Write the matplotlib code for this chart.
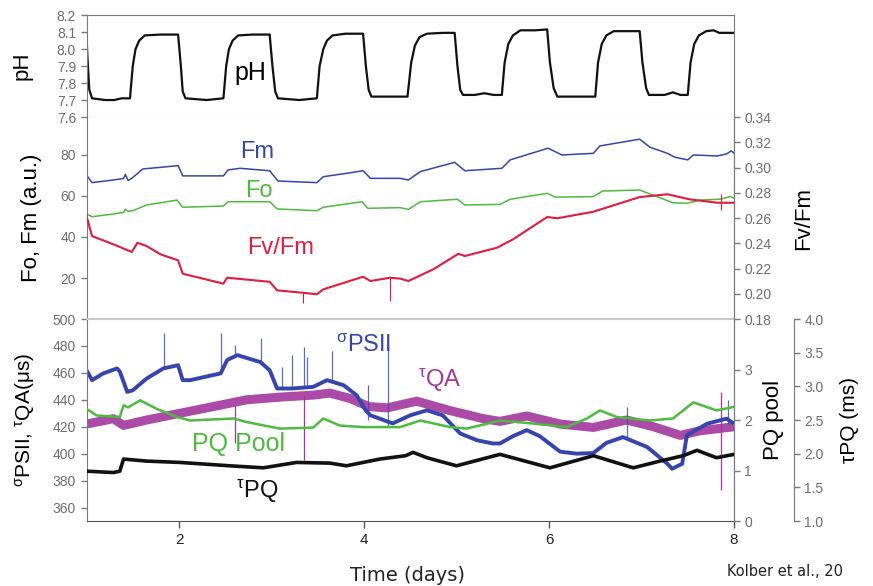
import matplotlib
matplotlib.use("Agg")
import matplotlib.pyplot as plt

plt.rcParams['font.family'] = ['Liberation Sans', 'DejaVu Sans']
plt.rcParams['mathtext.fontset'] = 'custom'
plt.rcParams['mathtext.rm'] = 'Liberation Sans'
plt.rcParams['mathtext.it'] = 'Liberation Sans'

# ---- data (time in days) ----
ph_days = [1.00, 1.01, 1.03, 1.06, 1.20, 1.30, 1.38, 1.47,
           1.50, 1.53, 1.57, 1.63, 1.80, 1.99, 2.02, 2.04, 2.07, 2.30, 2.48,
           2.51, 2.54, 2.58, 2.64, 2.80, 2.98, 3.01, 3.04, 3.07, 3.30, 3.49,
           3.52, 3.56, 3.60, 3.66, 3.80, 3.99, 4.02, 4.05, 4.08, 4.30, 4.47,
           4.51, 4.55, 4.60, 4.68, 4.85, 4.98, 5.01, 5.04, 5.07, 5.20, 5.30, 5.40, 5.49,
           5.52, 5.56, 5.61, 5.69, 5.85, 5.98, 6.01, 6.05, 6.09, 6.30, 6.50,
           6.53, 6.57, 6.62, 6.70, 6.85, 6.98, 7.01, 7.05, 7.08, 7.25, 7.34, 7.42, 7.50,
           7.53, 7.57, 7.62, 7.70, 7.78, 7.84, 8.00]
ph_vals = [8.07, 7.95, 7.76, 7.71, 7.70, 7.70, 7.71, 7.71,
           7.90, 8.00, 8.05, 8.08, 8.085, 8.085, 7.90, 7.75, 7.71, 7.70, 7.71,
           7.90, 8.00, 8.05, 8.08, 8.085, 8.085, 7.90, 7.75, 7.71, 7.70, 7.71,
           7.90, 8.00, 8.05, 8.08, 8.09, 8.09, 7.90, 7.76, 7.72, 7.72, 7.72,
           7.92, 8.02, 8.07, 8.09, 8.095, 8.095, 7.90, 7.76, 7.73, 7.73, 7.74, 7.73, 7.73,
           7.92, 8.03, 8.08, 8.11, 8.11, 8.115, 7.92, 7.77, 7.72, 7.72, 7.72,
           7.92, 8.03, 8.08, 8.105, 8.105, 8.105, 7.92, 7.77, 7.73, 7.73, 7.745, 7.73, 7.73,
           7.92, 8.03, 8.08, 8.105, 8.11, 8.095, 8.095]

fm_days = [1.00, 1.06, 1.29, 1.40, 1.42, 1.45, 1.50, 1.61, 1.76, 1.99, 2.04, 2.48, 2.53,
           2.66, 2.98, 3.07, 3.49, 3.56, 3.82, 3.99, 4.07, 4.39, 4.48, 4.61, 4.98, 5.09,
           5.49, 5.58, 5.99, 6.14, 6.48, 6.55, 6.98, 7.09, 7.28, 7.36, 7.50, 7.56, 7.82,
           7.92, 7.97, 8.00]
fm_vals = [70.2, 66.5, 67.8, 68.5, 70.5, 67.5, 69.0, 73.2, 73.8, 74.8, 69.8, 69.8, 72.7,
           73.5, 72.3, 67.3, 66.5, 69.4, 71.1, 72.3, 68.6, 68.6, 67.8, 71.9, 76.4, 72.3,
           73.5, 77.6, 83.3, 80.0, 80.8, 84.4, 87.7, 83.8, 80.8, 78.9, 77.6, 80.0, 79.5,
           80.5, 82.0, 80.9]

fo_days = [1.00, 1.06, 1.29, 1.40, 1.42, 1.45, 1.50, 1.65, 1.98, 2.04, 2.48, 2.53, 2.98,
           3.06, 3.49, 3.56, 3.98, 4.04, 4.39, 4.48, 4.61, 5.01, 5.09, 5.47, 5.58, 5.98,
           6.07, 6.48, 6.58, 6.98, 7.12, 7.34, 7.49, 7.63, 7.85, 7.96, 8.00]
fo_vals = [51.2, 49.9, 51.2, 52.0, 53.5, 52.5, 52.8, 55.6, 58.0, 54.5, 55.1, 57.2, 57.2,
           53.7, 52.8, 54.5, 57.2, 54.0, 54.3, 53.5, 57.2, 58.4, 55.6, 55.9, 58.4, 61.3,
           59.4, 59.7, 62.4, 62.9, 60.5, 56.7, 56.4, 58.0, 58.4, 59.7, 58.9]

fvfm_days = [1.00, 1.06, 1.29, 1.49, 1.55, 1.65, 1.80, 1.99, 2.04, 2.48, 2.52, 2.98, 3.06,
             3.34, 3.49, 3.56, 3.99, 4.07, 4.28, 4.39, 4.48, 4.75, 5.02, 5.09, 5.44, 5.61,
             5.98, 6.09, 6.48, 6.98, 7.28, 7.52, 7.82, 8.00]
fvfm_vals = [0.2616, 0.2457, 0.2392, 0.2331, 0.2404, 0.2378, 0.2312, 0.2265, 0.2159,
             0.2080, 0.2127, 0.2095, 0.2027, 0.2008, 0.1996, 0.2035, 0.2135, 0.2101,
             0.2127, 0.2120, 0.2101, 0.2194, 0.2317, 0.2299, 0.2365, 0.2431, 0.2608,
             0.2598, 0.2650, 0.2766, 0.2788, 0.2748, 0.2721, 0.2721]
fvfm_spike_days = [3.34, 4.28, 7.86]
fvfm_spike_lo = [0.1929, 0.1943, 0.2666]
fvfm_spike_hi = [0.2008, 0.2127, 0.2790]

sig_days = [1.00, 1.06, 1.18, 1.33, 1.36, 1.44, 1.50, 1.65, 1.83, 1.99, 2.04, 2.12, 2.45,
            2.52, 2.63, 2.88, 2.98, 3.06, 3.22, 3.45, 3.60, 3.78, 3.92, 4.02, 4.07, 4.31,
            4.50, 4.68, 4.85, 5.04, 5.22, 5.39, 5.47, 5.61, 5.76, 5.90, 6.12, 6.30, 6.48,
            6.62, 6.80, 7.06, 7.28, 7.33, 7.44, 7.49, 7.71, 7.92, 8.00]
sig_vals = [462.0, 454.6, 459.6, 463.3, 461.0, 445.9, 447.1, 455.8, 463.3, 465.7, 454.6,
            454.6, 459.6, 469.5, 473.2, 468.0, 462.0, 448.4, 448.4, 449.6, 454.6, 450.8,
            443.4, 432.0, 428.5, 422.5, 428.5, 432.2, 428.5, 415.0, 410.0, 407.6, 407.6,
            413.0, 417.5, 413.0, 401.5, 400.0, 400.5, 408.0, 412.3, 405.0, 392.5, 388.8,
            392.5, 413.6, 422.3, 426.0, 422.3]
sig_spike_days = [1.838, 2.454, 2.605, 2.886, 3.114, 3.222, 3.351, 3.384, 3.654, 4.043,
                  4.259, 6.843, 7.935]
sig_spike_lo = [463.0, 459.0, 472.0, 467.0, 448.0, 448.0, 449.0, 449.0, 455.0, 425.0,
                420.0, 412.0, 422.0]
sig_spike_hi = [489.6, 489.6, 480.6, 485.8, 464.5, 473.0, 479.0, 472.0, 476.0, 451.0,
                480.6, 434.7, 439.7]

tqa_days = [1.00, 1.29, 1.40, 1.65, 2.01, 2.37, 2.73, 3.09, 3.45, 3.63, 3.85, 4.05, 4.25,
            4.57, 4.93, 5.29, 5.47, 5.76, 6.12, 6.48, 6.84, 7.13, 7.42, 7.63, 8.00]
tqa_vals = [422.0, 426.0, 421.0, 425.0, 430.0, 435.0, 440.0, 442.0, 443.5, 445.0, 441.0,
            435.0, 434.0, 439.0, 432.0, 426.0, 424.0, 428.0, 422.0, 419.5, 425.0, 420.0,
            413.6, 417.0, 420.0]
tqa_spike_days = [2.61, 3.351, 7.856]
tqa_spike_lo = [408.0, 395.0, 372.7]
tqa_spike_hi = [437.0, 443.0, 445.8]

pq_days = [1.00, 1.11, 1.36, 1.40, 1.45, 1.58, 1.76, 1.98, 2.12, 2.59, 2.73, 3.09, 3.45,
           3.56, 3.74, 3.99, 4.39, 4.61, 4.93, 5.11, 5.47, 5.83, 6.19, 6.41, 6.55, 6.73,
           7.09, 7.34, 7.56, 7.81, 8.00]
pq_vals = [2.22, 2.09, 2.06, 2.29, 2.25, 2.39, 2.22, 2.06, 1.99, 2.03, 1.96, 1.83, 1.85,
           2.03, 1.89, 1.86, 1.86, 1.99, 1.86, 1.83, 1.99, 1.93, 1.86, 2.03, 2.19, 2.06,
           1.99, 2.03, 2.35, 2.19, 2.26]

tpq_days = [1.00, 1.29, 1.36, 1.40, 1.65, 2.01, 2.55, 2.91, 3.27, 3.63, 3.81, 4.17, 4.45,
            4.53, 4.68, 5.00, 5.47, 6.01, 6.48, 6.91, 7.20, 7.45, 7.60, 7.81, 8.00]
tpq_vals = [1.74, 1.72, 1.74, 1.92, 1.89, 1.87, 1.82, 1.79, 1.87, 1.86, 1.82, 1.92, 1.97,
            2.02, 1.94, 1.82, 1.99, 1.79, 1.97, 1.79, 1.89, 1.97, 2.05, 1.94, 1.99]

GREY = '#7a7a7a'
LIGHT = '#c8c8c8'
TICK = '#6e6e6e'
BLUE = '#3545ad'
GREEN = '#4cbc3c'
RED = '#e31b3d'
MAGENTA = '#a3369f'

fig = plt.figure(figsize=(8.73, 5.86), dpi=100)
L, W = 0.0991, 0.7417
ax1 = fig.add_axes([L, 0.8003, W, 0.1741])
ax2 = fig.add_axes([L, 0.4556, W, 0.3447])
ax3 = fig.add_axes([L, 0.1109, W, 0.3447])


def style(ax):
    for s in ax.spines.values():
        s.set_color(GREY)
    ax.tick_params(axis='y', colors=GREY, labelcolor=TICK, labelsize=10, length=4, width=1)
    ax.set_xlim(1, 8)


# pH panel
ax1.plot(ph_days, ph_vals, color='#111111', lw=1.6)
style(ax1)
ax1.set_ylim(7.6, 8.2)
ax1.set_yticks([7.6, 7.7, 7.8, 7.9, 8.0, 8.1, 8.2])
ax1.set_xticks([])
ax1.set_ylabel('pH', fontsize=16)
ax1.yaxis.set_label_coords(-0.084, 0.5)
ax1.text(2.77, 7.86, 'pH', fontsize=18, ha='center', va='center')

# Fo / Fm / Fv/Fm panel
ax2.plot(fm_days, fm_vals, color=BLUE, lw=1.1)
ax2.plot(fo_days, fo_vals, color=GREEN, lw=1.1)
style(ax2)
ax2.set_ylim(0, 98.5)
ax2.set_yticks([20, 40, 60, 80])
ax2.set_xticks([])
ax2.spines['top'].set_visible(False)
ax2.spines['bottom'].set_color(LIGHT)
ax2.spines['bottom'].set_linewidth(1.5)
ax2.set_ylabel('Fo, Fm (a.u.)', fontsize=16)
ax2.yaxis.set_label_coords(-0.069, 0.5)
ax2b = ax2.twinx()
ax2b.plot(fvfm_days, fvfm_vals, color=RED, lw=1.5)
ax2b.vlines(fvfm_spike_days, fvfm_spike_lo, fvfm_spike_hi, color=RED, lw=0.8)
style(ax2b)
ax2b.spines['top'].set_visible(False)
ax2b.spines['bottom'].set_visible(False)
ax2b.spines['left'].set_visible(False)
ax2b.set_ylim(0.18, 0.34)
ax2b.set_yticks([0.18, 0.20, 0.22, 0.24, 0.26, 0.28, 0.30, 0.32, 0.34])
ax2b.set_yticklabels(['%.2f' % v for v in ax2b.get_yticks()])
ax2b.set_ylabel('Fv/Fm', fontsize=16, rotation=90)
ax2b.yaxis.set_label_coords(1.091, 0.5)
ax2.text(2.84, 81.5, 'Fm', color=BLUE, fontsize=17, ha='center', va='center')
ax2.text(2.86, 62.4, 'Fo', color=GREEN, fontsize=17, ha='center', va='center')
ax2.text(3.10, 34.6, 'Fv/Fm', color=RED, fontsize=17, ha='center', va='center')

# sigma / tau panel
ax3.plot(tqa_days, tqa_vals, color=MAGENTA, lw=6.5, alpha=0.9, solid_capstyle='butt')
ax3.vlines(tqa_spike_days, tqa_spike_lo, tqa_spike_hi, color=MAGENTA, lw=0.9)
ax3.plot(sig_days, sig_vals, color=BLUE, lw=2.8, solid_capstyle='butt')
ax3.vlines(sig_spike_days, sig_spike_lo, sig_spike_hi, color=BLUE, lw=0.9, alpha=0.8)
style(ax3)
ax3.set_ylim(350, 500)
ax3.set_yticks([360, 380, 400, 420, 440, 460, 480, 500])
ax3.spines['top'].set_color(LIGHT)
ax3.spines['top'].set_linewidth(1.5)
ax3.spines['bottom'].set_color('#555555')
ax3.set_xticks([2, 4, 6, 8])
ax3.tick_params(axis='x', colors='#555555', labelcolor='#222222', labelsize=11,
                length=5, width=1)
ax3.set_ylabel(r'$^{\mathrm{\sigma}}$PSII, $^{\mathrm{\tau}}$QA(μs)', fontsize=15)
ax3.yaxis.set_label_coords(-0.076, 0.5)

ax3b = ax3.twinx()
ax3b.plot(pq_days, pq_vals, color=GREEN, lw=1.8)
style(ax3b)
for s in ['top', 'bottom', 'left']:
    ax3b.spines[s].set_visible(False)
ax3b.set_ylim(0, 4)
ax3b.set_yticks([0, 1, 2, 3])
ax3b.set_ylabel('PQ pool', fontsize=16)
ax3b.yaxis.set_label_coords(1.045, 0.5)

ax3c = ax3.twinx()
ax3c.plot(tpq_days, tpq_vals, color='#111111', lw=2.6)
style(ax3c)
for s in ['top', 'bottom', 'left']:
    ax3c.spines[s].set_visible(False)
ax3c.spines['right'].set_position(('axes', 1.0927))
ax3c.set_ylim(1.0, 4.0)
ax3c.set_yticks([1.0, 1.5, 2.0, 2.5, 3.0, 3.5, 4.0])
ax3c.set_yticklabels(['%.1f' % v for v in ax3c.get_yticks()])
ax3c.set_ylabel('τPQ (ms)', fontsize=15)
ax3c.yaxis.set_label_coords(1.164, 0.5)

ax3.text(3.99, 480, r'$^{\mathrm{\sigma}}$PSII', color=BLUE, fontsize=17, ha='center', va='center')
ax3.text(4.82, 454.6, r'$^{\mathrm{\tau}}$QA', color=MAGENTA, fontsize=17, ha='center', va='center')
ax3.text(2.64, 407, 'PQ Pool', color=GREEN, fontsize=18, ha='center', va='center')
ax3.text(2.84, 372, r'$^{\mathrm{\tau}}$PQ', color='#111111', fontsize=17, ha='center', va='center')

fig.text(0.467, 0.034, 'Time (days)', fontsize=14, ha='center', va='top',
         family='DejaVu Sans', color='#222222')
fig.text(0.833, 0.038, 'Kolber et al., 20', fontsize=10.5, ha='left', va='top',
         family='DejaVu Sans', color='#222222')

fig.savefig('out.png', dpi=100)
